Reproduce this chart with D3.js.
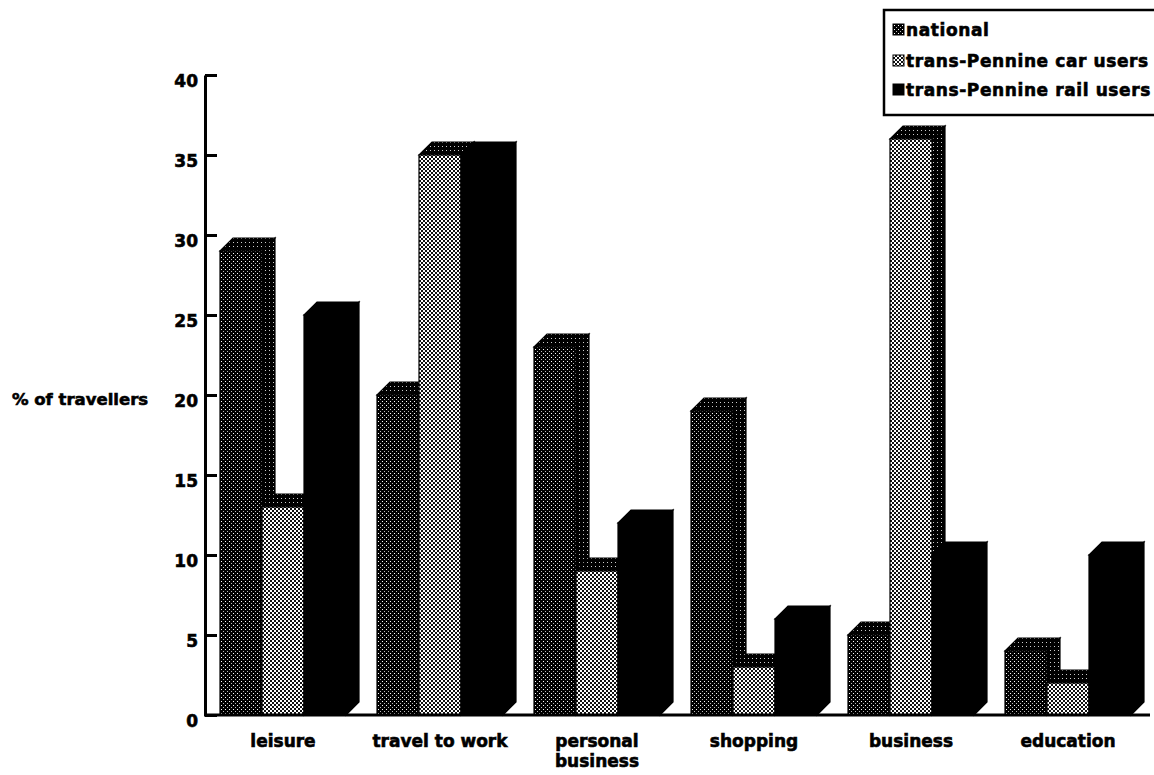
<!DOCTYPE html>
<html>
<head>
<meta charset="utf-8">
<script src="https://cdn.jsdelivr.net/npm/d3@7"></script>
<style>
    body { margin: 0; background: #fff; }
    text { font-family: "DejaVu Sans", sans-serif; font-weight: bold; fill: #000; stroke: #000; stroke-width: 0.6px; }
</style>
</head>
<body>
<div id="chart"></div>
<script>
// data (% of travellers by journey purpose)
let categories = ["leisure", "travel to work", "personal business", "shopping", "business", "education"];
let categoryLabels = [["leisure"], ["travel to work"], ["personal", "business"], ["shopping"], ["business"], ["education"]];
let series = ["national", "trans-Pennine car users", "trans-Pennine rail users"];
let national = [29, 20, 23, 19, 5, 4];
let carUsers = [13, 35, 9, 3, 36, 2];
let railUsers = [25, 35, 12, 6, 10, 10];
let yTicks = [0, 5, 10, 15, 20, 25, 30, 35, 40];

class BarVis {
    constructor(parentElement) {
        this.parentElement = parentElement;
        this.initVis();
    }

    initVis() {
        let vis = this;

        vis.width = 1154;
        vis.height = 775;
        vis.depth = 13;

        vis.svg = d3.select("#" + vis.parentElement).append("svg")
            .attr("width", vis.width)
            .attr("height", vis.height);

        // patterns: stipple for national, checker for car users
        let defs = vis.svg.append("defs");

        let pNat = defs.append("pattern").attr("id", "pat-national")
            .attr("width", 4).attr("height", 4).attr("patternUnits", "userSpaceOnUse");
        pNat.append("rect").attr("width", 4).attr("height", 4).attr("fill", "#000");
        pNat.append("rect").attr("x", 1).attr("y", 1).attr("width", 1).attr("height", 1).attr("fill", "#fff");
        pNat.append("rect").attr("x", 3).attr("y", 3).attr("width", 1).attr("height", 1).attr("fill", "#bbb");

        let pDark = defs.append("pattern").attr("id", "pat-dark")
            .attr("width", 4).attr("height", 4).attr("patternUnits", "userSpaceOnUse");
        pDark.append("rect").attr("width", 4).attr("height", 4).attr("fill", "#000");
        pDark.append("rect").attr("x", 1).attr("y", 2).attr("width", 1).attr("height", 1).attr("fill", "#ccc");

        let pCar = defs.append("pattern").attr("id", "pat-car")
            .attr("width", 4).attr("height", 4).attr("patternUnits", "userSpaceOnUse");
        pCar.append("rect").attr("width", 4).attr("height", 4).attr("fill", "#111");
        pCar.append("rect").attr("x", 0).attr("y", 0).attr("width", 2).attr("height", 2).attr("fill", "#fff");
        pCar.append("rect").attr("x", 2).attr("y", 2).attr("width", 2).attr("height", 2).attr("fill", "#fff");

        vis.frontFill = {
            "national": "url(#pat-national)",
            "trans-Pennine car users": "url(#pat-car)",
            "trans-Pennine rail users": "#000"
        };
        vis.faceFill = {
            "national": "url(#pat-dark)",
            "trans-Pennine car users": "url(#pat-dark)",
            "trans-Pennine rail users": "#000"
        };

        vis.values = {
            "national": national,
            "trans-Pennine car users": carUsers,
            "trans-Pennine rail users": railUsers
        };

        // scales
        vis.x0 = d3.scaleBand()
            .domain(categories)
            .range([220, 1144])
            .paddingInner(0.1146);

        vis.x1 = d3.scaleBand()
            .domain(series)
            .range([0, vis.x0.bandwidth() - vis.depth]);

        vis.y = d3.scaleLinear()
            .domain([0, 40])
            .range([715, 75]);

        vis.updateVis();
    }

    updateVis() {
        let vis = this;
        let d = vis.depth;
        let yb = vis.y(0);

        let groups = vis.svg.selectAll(".group")
            .data(categories)
            .join("g")
            .attr("class", "group")
            .attr("transform", c => `translate(${vis.x0(c)},0)`);

        let bars = groups.selectAll(".bar")
            .data((c, i) => series.map(s => ({series: s, value: vis.values[s][i]})))
            .join("g")
            .attr("class", "bar");

        // side face
        bars.append("polygon")
            .attr("points", b => {
                let x1 = vis.x1(b.series) + vis.x1.bandwidth(), yt = vis.y(b.value);
                return [[x1, yt], [x1 + d, yt - d], [x1 + d, yb - d], [x1, yb]].join(" ");
            })
            .attr("fill", b => vis.faceFill[b.series])
            .attr("stroke", "#000")
            .attr("stroke-width", 1.2);

        // top face
        bars.append("polygon")
            .attr("points", b => {
                let x0 = vis.x1(b.series), x1 = x0 + vis.x1.bandwidth(), yt = vis.y(b.value);
                return [[x0, yt], [x0 + d, yt - d], [x1 + d, yt - d], [x1, yt]].join(" ");
            })
            .attr("fill", b => vis.faceFill[b.series])
            .attr("stroke", "#000")
            .attr("stroke-width", 1.2);

        // front face
        bars.append("rect")
            .attr("x", b => vis.x1(b.series))
            .attr("y", b => vis.y(b.value))
            .attr("width", vis.x1.bandwidth())
            .attr("height", b => yb - vis.y(b.value))
            .attr("fill", b => vis.frontFill[b.series])
            .attr("stroke", "#000")
            .attr("stroke-width", 1.2);

        // y axis
        let yAxis = d3.axisLeft(vis.y)
            .tickValues(yTicks)
            .tickSizeInner(-12)
            .tickSizeOuter(0)
            .tickPadding(7);

        let gy = vis.svg.append("g")
            .attr("class", "axis")
            .attr("transform", "translate(205,0)")
            .call(yAxis);
        gy.select(".domain").attr("stroke", "#000").attr("stroke-width", 3);
        gy.selectAll(".tick line").attr("stroke", "#000").attr("stroke-width", 3);
        gy.selectAll(".tick text")
            .attr("dy", "0.68em")
            .style("font-family", "'DejaVu Sans', sans-serif")
            .style("font-weight", "bold")
            .style("font-size", "17px");

        // baseline
        vis.svg.append("line")
            .attr("x1", 204).attr("x2", 1150)
            .attr("y1", yb).attr("y2", yb)
            .attr("stroke", "#000")
            .attr("stroke-width", 3);

        // category labels
        let front = vis.x0.bandwidth() - d;
        vis.svg.selectAll(".cat-label")
            .data(categories)
            .join("text")
            .attr("class", "cat-label")
            .attr("text-anchor", "middle")
            .attr("font-size", "17px")
            .each(function (c, i) {
                d3.select(this).selectAll("tspan")
                    .data(categoryLabels[i])
                    .join("tspan")
                    .attr("x", vis.x0(c) + front / 2)
                    .attr("y", (l, j) => 747 + j * 20)
                    .text(l => l);
            });

        // y label
        vis.svg.append("text")
            .attr("x", 12)
            .attr("y", 405)
            .attr("font-size", "16.5px")
            .text("% of travellers");

        // legend
        let legend = vis.svg.append("g").attr("class", "legend");
        legend.append("rect")
            .attr("x", 884).attr("y", 10)
            .attr("width", 290).attr("height", 105)
            .attr("fill", "#fff")
            .attr("stroke", "#000")
            .attr("stroke-width", 2.5);

        let legendBase = [36, 67, 96];
        let items = legend.selectAll(".item")
            .data(series)
            .join("g")
            .attr("class", "item")
            .attr("transform", (s, i) => `translate(893,${legendBase[i]})`);

        items.append("rect")
            .attr("x", 0).attr("y", -12)
            .attr("width", 11).attr("height", 11)
            .attr("fill", s => vis.frontFill[s])
            .attr("stroke", "#000")
            .attr("stroke-width", 1);

        items.append("text")
            .attr("x", 13)
            .attr("y", 0)
            .attr("font-size", "17px")
            .attr("letter-spacing", "0.6px")
            .text(s => s);
    }
}

new BarVis("chart");
</script>
</body>
</html>
